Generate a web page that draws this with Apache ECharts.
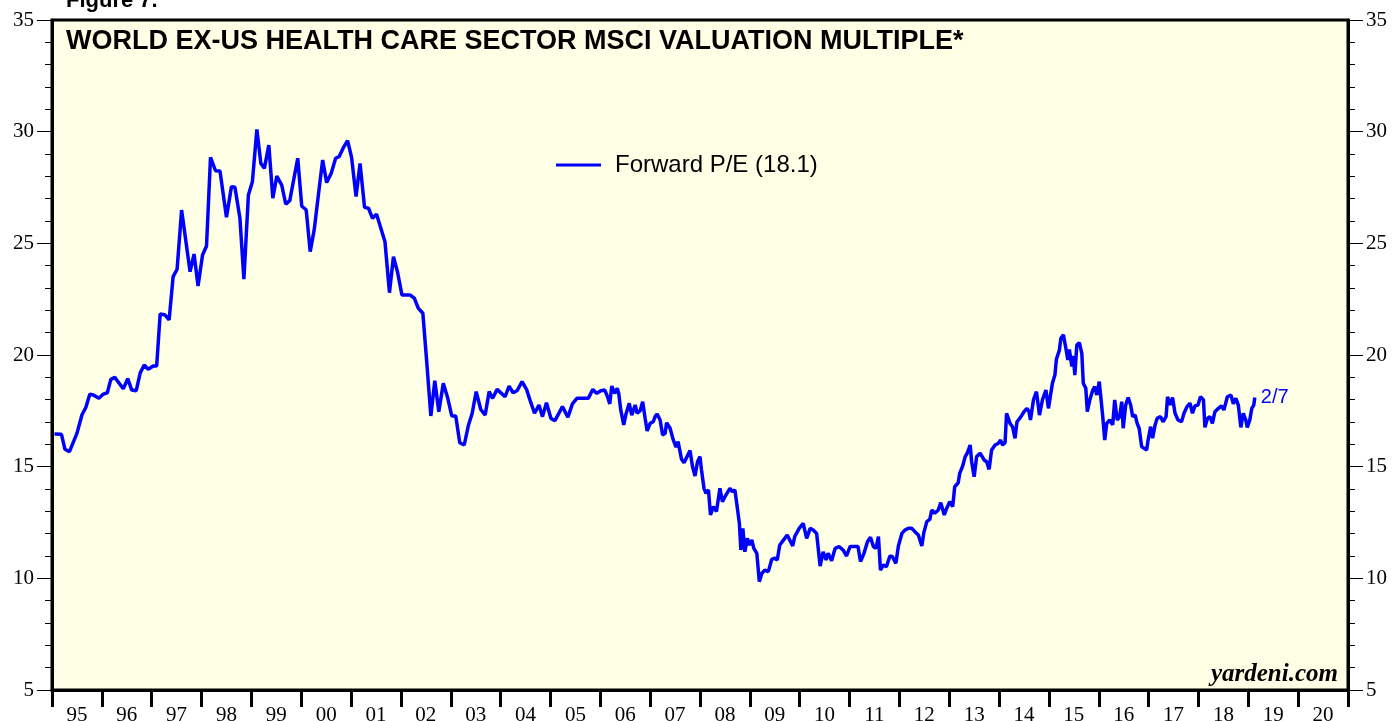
<!DOCTYPE html>
<html>
<head>
<meta charset="utf-8">
<script src="https://cdn.jsdelivr.net/npm/echarts@6/dist/echarts.min.js"></script>
<style>
  html, body { margin: 0; padding: 0; background: #fff; }
  #main { width: 1395px; height: 721px; }
</style>
</head>
<body>
<div id="main"></div>
<script>
// year labels shown under the x axis
var yearLabels = ['95','96','97','98','99','00','01','02','03','04','05','06','07','08','09','10','11','12','13','14','15','16','17','18','19','20'];
var yTicks = [5, 10, 15, 20, 25, 30, 35];

// forward P/E (decimal years)
var years = [
  1995.05,1995.09,1995.19,1995.26,1995.35,1995.50,1995.60,1995.68,1995.76,1995.83,1995.94,
  1996.03,1996.11,1996.18,1996.26,1996.43,1996.52,1996.60,1996.69,1996.77,1996.85,1996.93,
  1997.03,1997.10,1997.17,1997.27,1997.35,1997.43,1997.51,1997.60,1997.77,1997.85,1997.93,
  1998.02,1998.10,1998.18,1998.28,1998.37,1998.50,1998.60,1998.67,1998.77,1998.85,1998.94,
  1999.02,1999.11,1999.19,1999.26,1999.35,1999.43,1999.51,1999.61,1999.69,1999.77,1999.93,
  2000.01,2000.10,2000.18,2000.26,2000.36,2000.43,2000.51,2000.60,2000.69,2000.76,2000.84,2000.93,
  2001.01,2001.10,2001.18,2001.27,2001.35,2001.43,2001.51,2001.68,2001.77,2001.85,2001.93,
  2002.02,2002.18,2002.27,2002.35,2002.44,2002.52,2002.60,2002.68,2002.76,2002.85,2002.94,
  2003.02,2003.10,2003.18,2003.27,2003.35,2003.43,2003.51,2003.60,2003.69,2003.77,2003.84,2003.93,
  2004.09,2004.17,2004.25,2004.33,2004.43,2004.52,2004.60,2004.68,2004.77,2004.84,2004.92,
  2005.01,2005.09,2005.24,2005.35,2005.44,2005.53,2005.76,2005.85,2005.93,
  2006.01,2006.09,2006.14,2006.19,2006.23,2006.29,2006.34,2006.37,2006.41,2006.47,2006.51,2006.58,
  2006.63,2006.70,2006.74,2006.80,2006.85,2006.90,2006.94,
  2007.00,2007.06,2007.10,2007.14,2007.20,2007.25,2007.30,2007.33,2007.40,2007.46,2007.52,2007.56,
  2007.63,2007.68,2007.74,2007.80,2007.85,2007.90,2007.95,
  2008.00,2008.03,2008.08,2008.12,2008.17,2008.21,2008.27,2008.33,2008.40,2008.45,2008.52,2008.60,
  2008.65,2008.70,2008.75,2008.79,2008.82,2008.86,2008.90,2008.95,2008.99,
  2009.04,2009.08,2009.14,2009.19,2009.24,2009.30,2009.37,2009.44,2009.50,2009.55,2009.60,2009.67,
  2009.75,2009.80,2009.86,2009.90,2009.99,
  2010.07,2010.14,2010.21,2010.27,2010.34,2010.41,2010.47,2010.53,2010.57,2010.64,2010.71,2010.79,
  2010.87,2010.94,
  2011.01,2011.11,2011.17,2011.22,2011.29,2011.36,2011.42,2011.48,2011.53,2011.58,2011.62,2011.68,
  2011.74,2011.81,2011.86,2011.93,2011.98,
  2012.05,2012.11,2012.18,2012.25,2012.31,2012.38,2012.45,2012.49,2012.55,2012.61,2012.65,2012.71,
  2012.78,2012.83,2012.90,2012.95,
  2013.01,2013.07,2013.11,2013.18,2013.21,2013.27,2013.32,2013.36,2013.42,2013.45,2013.50,2013.55,
  2013.62,2013.70,2013.75,2013.80,2013.85,2013.92,2013.98,
  2014.03,2014.07,2014.12,2014.15,2014.22,2014.27,2014.32,2014.36,2014.43,2014.50,2014.56,2014.60,
  2014.63,2014.69,2014.75,2014.81,2014.87,2014.94,2014.99,
  2015.03,2015.07,2015.12,2015.15,2015.21,2015.24,2015.29,2015.34,2015.38,2015.41,2015.46,2015.49,
  2015.52,2015.56,2015.61,2015.66,2015.69,2015.74,2015.77,2015.82,2015.88,2015.92,2015.96,
  2016.01,2016.04,2016.08,2016.12,2016.16,2016.22,2016.28,2016.32,2016.37,2016.42,2016.46,2016.49,
  2016.54,2016.59,2016.64,2016.68,2016.73,2016.77,2016.81,2016.86,2016.91,2016.96,2016.99,
  2017.04,2017.08,2017.13,2017.17,2017.24,2017.29,2017.35,2017.38,2017.43,2017.48,2017.53,2017.59,
  2017.66,2017.71,2017.77,2017.83,2017.88,2017.93,2017.99,
  2018.04,2018.10,2018.13,2018.18,2018.23,2018.28,2018.33,2018.40,2018.46,2018.51,2018.58,2018.65,
  2018.70,2018.75,2018.80,2018.85,2018.90,2018.95,2018.98,
  2019.03,2019.07,2019.11,2019.13
];
var pe = [
  16.46,16.46,16.45,15.78,15.67,16.49,17.31,17.66,18.25,18.21,18.06,
  18.25,18.31,18.91,19.00,18.49,18.94,18.43,18.40,19.20,19.55,19.36,
  19.51,19.51,21.84,21.79,21.57,23.51,23.84,26.49,23.73,24.52,23.09,
  24.48,24.88,28.85,28.25,28.24,26.17,27.54,27.51,26.12,23.40,27.16,
  27.76,30.10,28.58,28.36,29.40,27.02,28.01,27.60,26.75,26.91,28.81,
  26.67,26.49,24.63,25.60,27.46,28.73,27.72,28.13,28.81,28.88,29.26,29.60,
  28.85,27.09,28.58,26.61,26.57,26.12,26.31,25.07,22.79,24.40,23.73,
  22.69,22.69,22.54,22.09,21.87,19.63,17.27,18.85,17.46,18.73,18.06,
  17.27,17.27,16.07,15.97,16.82,17.39,18.36,17.57,17.31,18.36,18.06,18.46,
  18.13,18.61,18.31,18.40,18.81,18.46,17.91,17.39,17.76,17.24,17.86,
  17.16,17.06,17.69,17.21,17.81,18.06,18.06,18.46,18.28,
  18.40,18.43,18.16,17.81,18.61,18.28,18.51,18.28,17.54,16.87,17.31,17.84,
  17.31,17.76,17.39,17.51,17.91,17.16,16.60,
  16.94,17.01,17.24,17.36,17.09,16.42,16.49,16.97,16.72,16.22,15.87,16.12,
  15.33,15.18,15.45,15.72,15.00,14.58,15.22,
  15.45,14.85,14.03,13.81,13.96,12.84,13.21,12.99,14.03,13.43,13.73,14.03,
  13.88,13.96,13.14,12.46,11.27,12.24,11.19,11.79,11.49,
  11.72,11.34,11.12,9.85,10.22,10.37,10.30,10.85,10.90,10.82,11.49,11.70,
  11.94,11.72,11.45,11.87,12.24,
  12.46,11.79,12.24,12.16,12.01,10.55,11.19,10.82,11.12,10.79,11.34,11.42,
  11.27,11.00,
  11.42,11.42,11.42,10.75,11.12,11.64,11.84,11.42,11.34,11.87,10.37,10.60,
  10.52,11.00,10.97,10.67,11.45,
  12.01,12.16,12.24,12.24,12.09,11.94,11.45,12.04,12.54,12.64,13.06,12.91,
  13.06,13.39,12.84,13.14,
  13.43,13.21,14.10,14.28,14.70,15.03,15.45,15.60,15.97,15.22,14.55,15.45,
  15.60,15.30,15.22,14.88,15.75,15.97,16.04,
  16.19,15.97,16.07,17.39,16.94,16.79,16.27,17.01,17.21,17.46,17.61,17.46,
  17.09,17.99,18.36,17.31,17.99,18.43,17.61,
  17.57,18.73,19.10,19.81,20.22,20.75,20.90,20.30,19.78,20.25,19.48,19.96,
  19.10,20.45,20.55,20.07,18.73,18.51,17.46,17.99,18.43,18.58,18.21,
  18.81,18.13,17.24,16.19,16.94,17.09,16.87,17.99,17.09,17.24,17.91,16.72,
  17.76,18.10,17.76,17.24,17.31,16.94,16.72,15.90,15.82,15.75,16.19,
  16.79,16.27,16.87,17.16,17.24,17.01,17.24,18.13,17.76,18.10,17.39,17.09,
  17.01,17.39,17.69,17.84,17.39,17.72,17.76,
  18.13,17.99,16.76,17.16,17.24,16.94,17.46,17.61,17.72,17.54,18.13,18.21,
  17.82,18.06,17.76,16.76,17.39,17.09,16.76,
  17.09,17.61,17.76,18.10
];

var seriesData = years.map(function (y, i) { return [y, pe[i]]; });

var myChart = echarts.init(document.getElementById('main'));

var serif = "'Liberation Serif', 'Times New Roman', serif";
var sans = "'Liberation Sans', Arial, sans-serif";

function yAxisCfg(pos) {
  return {
    type: 'value',
    position: pos,
    min: 5,
    max: 35,
    interval: 5,
    axisLine: { show: true, lineStyle: { color: '#000', width: 3 } },
    axisTick: { show: true, inside: false, length: 15, lineStyle: { color: '#000', width: 1 } },
    minorTick: { show: true, splitNumber: 5, length: 7, lineStyle: { color: '#000', width: 1 } },
    splitLine: { show: false },
    axisLabel: {
      fontFamily: serif, fontSize: 21, color: '#000', margin: 18,
      formatter: function (v) { return yTicks.indexOf(v) >= 0 ? String(v) : ''; }
    }
  };
}

var option = {
  animation: false,
  backgroundColor: '#ffffff',
  title: [
    {
      text: 'Figure 7.',
      left: 61, top: -15,
      textStyle: { fontFamily: sans, fontWeight: 'bold', fontSize: 22, color: '#000' }
    },
    {
      text: 'WORLD EX-US HEALTH CARE SECTOR MSCI VALUATION MULTIPLE*',
      left: 61, top: 23,
      textStyle: { fontFamily: sans, fontWeight: 'bold', fontSize: 27, color: '#000' }
    }
  ],
  legend: {
    left: 551, top: 148,
    icon: 'rect',
    itemWidth: 45, itemHeight: 3,
    textStyle: { fontFamily: sans, fontSize: 24, color: '#000', padding: [0, 0, 0, 9] },
    data: ['Forward P/E (18.1)']
  },
  grid: {
    left: 52, right: 47, top: 20, bottom: 31,
    outerBoundsMode: 'none',
    show: true,
    backgroundColor: '#ffffe5',
    borderColor: '#000',
    borderWidth: 3
  },
  xAxis: [
    {
      type: 'category',
      data: yearLabels,
      boundaryGap: true,
      position: 'bottom',
      axisLine: { show: true, lineStyle: { color: '#000', width: 3 } },
      axisTick: { show: true, interval: 0, length: 17, lineStyle: { color: '#000', width: 3 } },
      axisLabel: { interval: 0, fontFamily: serif, fontSize: 21, color: '#000', margin: 15 },
      splitLine: { show: false }
    },
    {
      type: 'value',
      min: 1995,
      max: 2021,
      show: false
    }
  ],
  yAxis: [yAxisCfg('left'), yAxisCfg('right')],
  series: [
    {
      name: 'Forward P/E (18.1)',
      type: 'line',
      xAxisIndex: 1,
      yAxisIndex: 0,
      data: seriesData,
      showSymbol: false,
      symbol: 'none',
      color: '#0000ff',
      lineStyle: { color: '#0000ff', width: 3.5 },
      endLabel: {
        show: true,
        formatter: '2/7',
        color: '#0000ff',
        fontFamily: sans,
        fontSize: 20,
        distance: 6
      }
    }
  ],
  graphic: [
    {
      type: 'text',
      right: 57,
      top: 662,
      style: {
        text: 'yardeni.com',
        fontFamily: serif,
        fontStyle: 'italic',
        fontWeight: 'bold',
        fontSize: 25,
        fill: '#000'
      }
    }
  ]
};

myChart.setOption(option);
</script>
</body>
</html>
